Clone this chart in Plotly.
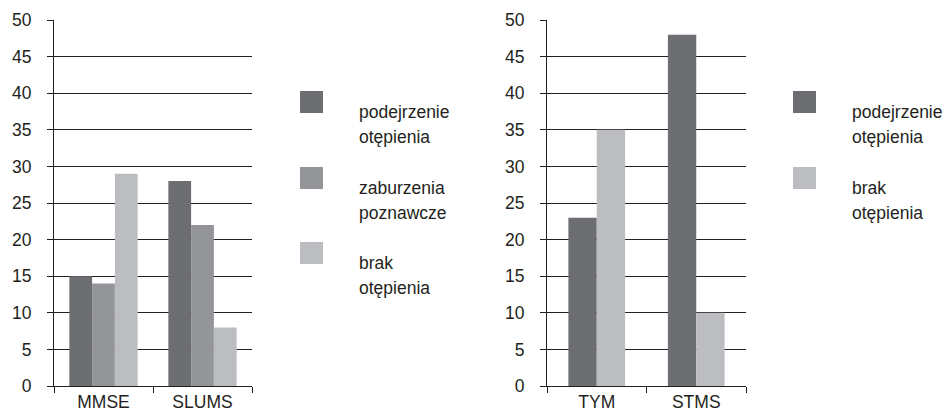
import plotly.graph_objects as go

# ---- data ----
cats_left = ["MMSE", "SLUMS"]
podejrzenie_left = [15, 28]
zaburzenia_left = [14, 22]
brak_left = [29, 8]

cats_right = ["TYM", "STMS"]
podejrzenie_right = [23, 48]
brak_right = [35, 10]

legend_left = [["podejrzenie", "otępienia"], ["zaburzenia", "poznawcze"], ["brak", "otępienia"]]
legend_right = [["podejrzenie", "otępienia"], ["brak", "otępienia"]]

y_ticks = [0, 5, 10, 15, 20, 25, 30, 35, 40, 45, 50]

# ---- style ----
C_DARK = "#6d6e72"
C_MID = "#949598"
C_LIGHT = "#bcbdc0"
INK = "#231f20"
FONT = "Liberation Sans, Arial, sans-serif"
FS = 17.5
W, H = 944, 417

fig = go.Figure()

bw_l = 0.23
for vals, col, off in [(podejrzenie_left, C_DARK, -1.5 * bw_l),
                       (zaburzenia_left, C_MID, -0.5 * bw_l),
                       (brak_left, C_LIGHT, 0.5 * bw_l)]:
    fig.add_trace(go.Bar(x=cats_left, y=vals, marker=dict(color=col, line=dict(width=0)),
                         width=bw_l, offset=off, xaxis="x", yaxis="y", showlegend=False,
                         hoverinfo="skip"))

bw_r = 0.285
for vals, col, off in [(podejrzenie_right, C_DARK, -bw_r),
                       (brak_right, C_LIGHT, 0)]:
    fig.add_trace(go.Bar(x=cats_right, y=vals, marker=dict(color=col, line=dict(width=0)),
                         width=bw_r, offset=off, xaxis="x2", yaxis="y2", showlegend=False,
                         hoverinfo="skip"))

def px_x(p):
    return p / W

def px_y(p):
    return 1 - p / H

ydom = [px_y(386), px_y(20)]

xaxis_common = dict(showline=True, linecolor=INK, linewidth=1, ticks="outside",
                    tickson="boundaries", ticklen=6, tickcolor=INK, showgrid=False,
                    automargin=False,
                    tickfont=dict(size=FS, color=INK, family=FONT), fixedrange=True)
yaxis_common = dict(range=[0, 50], tickvals=y_ticks, showline=True, linecolor=INK, linewidth=1,
                    ticks="outside", ticklen=6, tickcolor=INK, showgrid=True, gridcolor=INK,
                    gridwidth=1, zeroline=False, ticklabelstandoff=12, automargin=False,
                    tickfont=dict(size=FS, color=INK, family=FONT), domain=ydom, fixedrange=True)

fig.update_layout(
    width=W, height=H,
    margin=dict(l=0, r=0, t=0, b=0),
    paper_bgcolor="white", plot_bgcolor="white",
    barmode="overlay",
    font=dict(family=FONT, color=INK, size=FS),
    xaxis=dict(domain=[px_x(54), px_x(252)], anchor="y", **xaxis_common),
    yaxis=dict(anchor="x", **yaxis_common),
    xaxis2=dict(domain=[px_x(547), px_x(746)], anchor="y2", **xaxis_common),
    yaxis2=dict(anchor="x2", **yaxis_common),
)

# ---- legends (drawn as swatches + text) ----
shapes = []
annotations = []

def add_legend(items, cols, tops, sw_x0, txt_x):
    for lines, col, top in zip(items, cols, tops):
        shapes.append(dict(type="rect", xref="paper", yref="paper",
                           x0=px_x(sw_x0), x1=px_x(sw_x0 + 23), y0=px_y(top + 22), y1=px_y(top),
                           fillcolor=col, line=dict(width=0)))
        for i, line in enumerate(lines):
            annotations.append(dict(xref="paper", yref="paper", x=px_x(txt_x),
                                    y=px_y(top + 21 + 25 * i),
                                    xanchor="left", yanchor="middle", align="left",
                                    showarrow=False, text=line,
                                    font=dict(size=FS, color=INK, family=FONT)))

add_legend(legend_left, [C_DARK, C_MID, C_LIGHT], [91, 167, 242], 300, 357)
add_legend(legend_right, [C_DARK, C_LIGHT], [91, 167], 793, 850)

fig.update_layout(shapes=shapes, annotations=annotations)

fig.write_html("out.html", config={"displayModeBar": False},
               post_script="document.body.style.margin='0';")
